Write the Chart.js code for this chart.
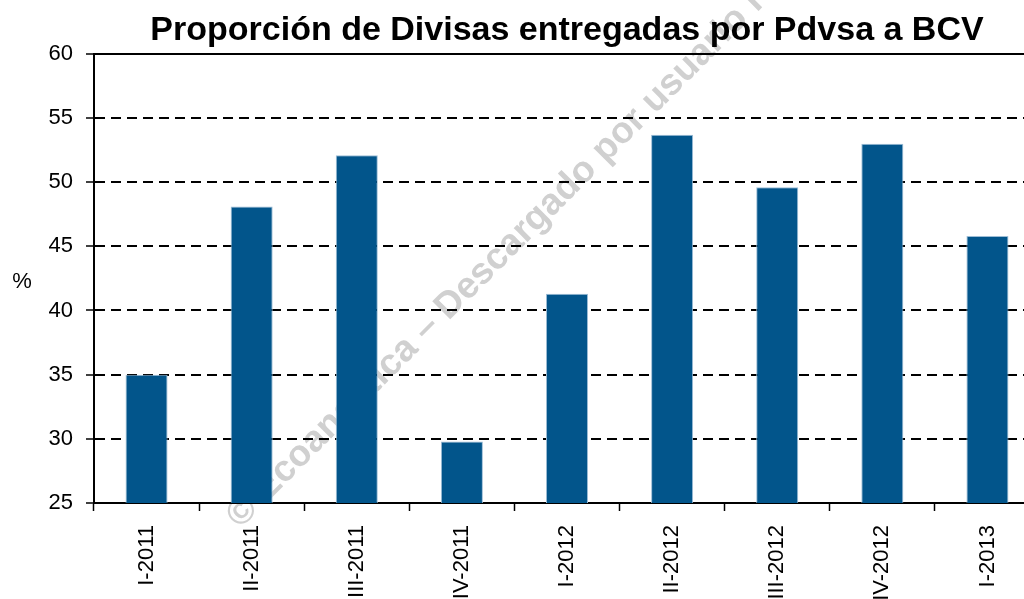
<!DOCTYPE html>
<html>
<head>
<meta charset="utf-8">
<script src="https://cdn.jsdelivr.net/npm/chart.js@4"></script>
<style>
  html, body { margin: 0; padding: 0; background: #fff; overflow: hidden; }
  #wrap { width: 1040px; height: 599px; position: relative; }
</style>
</head>
<body>
<div id="wrap"><canvas id="divisasChart"></canvas></div>
<script>
const quarters = ['I-2011', 'II-2011', 'III-2011', 'IV-2011', 'I-2012', 'II-2012', 'III-2012', 'IV-2012', 'I-2013'];
const shareValues = [35.0, 48.1, 52.1, 29.8, 41.3, 53.7, 49.6, 53.0, 45.8];
const yTicks = [25, 30, 35, 40, 45, 50, 55, 60];

const titleText = 'Proporción de Divisas entregadas por Pdvsa a BCV';
const watermarkText = '© Ecoanalítica – Descargado por usuario registrado';

// watermark under everything, % label on the left
const extras = {
    id: 'extras',
    beforeDraw(chart) {
        const ctx = chart.ctx;
        ctx.save();
        ctx.translate(233, 522);
        ctx.rotate(-45 * Math.PI / 180);
        ctx.font = 'bold 37px "Liberation Sans", Arial, sans-serif';
        ctx.fillStyle = '#d0d0d0';
        ctx.textAlign = 'left';
        ctx.textBaseline = 'middle';
        ctx.fillText(watermarkText, 0, 0);
        ctx.restore();
    },
    afterDraw(chart) {
        const ctx = chart.ctx;
        ctx.save();
        ctx.font = '22px "Liberation Sans", Arial, sans-serif';
        ctx.fillStyle = '#000';
        ctx.textAlign = 'center';
        ctx.textBaseline = 'middle';
        ctx.fillText('%', 22, 282);
        ctx.restore();
    }
};

new Chart(document.getElementById('divisasChart'), {
    type: 'bar',
    data: {
        labels: quarters,
        datasets: [{
            label: '%',
            data: shareValues,
            backgroundColor: '#02558B',
            borderColor: '#9dbdd6',
            borderWidth: 1,
            barPercentage: 0.4,
            categoryPercentage: 1.0
        }]
    },
    options: {
        responsive: true,
        maintainAspectRatio: false,
        animation: false,
        layout: { padding: 0 },
        plugins: {
            legend: { display: false },
            tooltip: { enabled: false },
            title: {
                display: true,
                text: titleText,
                fullSize: false,
                color: '#000',
                font: { family: '"Liberation Sans", Arial, sans-serif', size: 34, weight: 'bold' },
                padding: { top: 10, bottom: 3 }
            }
        },
        scales: {
            x: {
                grid: {
                    drawOnChartArea: false,
                    offset: true,
                    color: '#000',
                    tickLength: 8,
                    tickWidth: 1.5
                },
                border: { color: '#000', width: 2 },
                ticks: {
                    color: '#000',
                    font: { family: '"Liberation Sans", Arial, sans-serif', size: 22 },
                    maxRotation: 90,
                    minRotation: 90,
                    padding: 14,
                    autoSkip: false
                },
                afterFit(scale) { scale.height = 96; }
            },
            y: {
                min: 25,
                max: 60,
                afterBuildTicks(scale) { scale.ticks = yTicks.map(v => ({ value: v })); },
                grid: {
                    color: '#000',
                    lineWidth: 2,
                    tickLength: 8,
                    tickWidth: 1.5
                },
                border: {
                    color: '#000',
                    width: 2,
                    dash: ctx => (ctx.tick && ctx.tick.value === 60) ? [] : [10, 6]
                },
                ticks: {
                    color: '#000',
                    font: { family: '"Liberation Sans", Arial, sans-serif', size: 22 },
                    padding: 13
                },
                afterFit(scale) { scale.width = 94; }
            }
        }
    },
    plugins: [extras]
});
</script>
</body>
</html>
